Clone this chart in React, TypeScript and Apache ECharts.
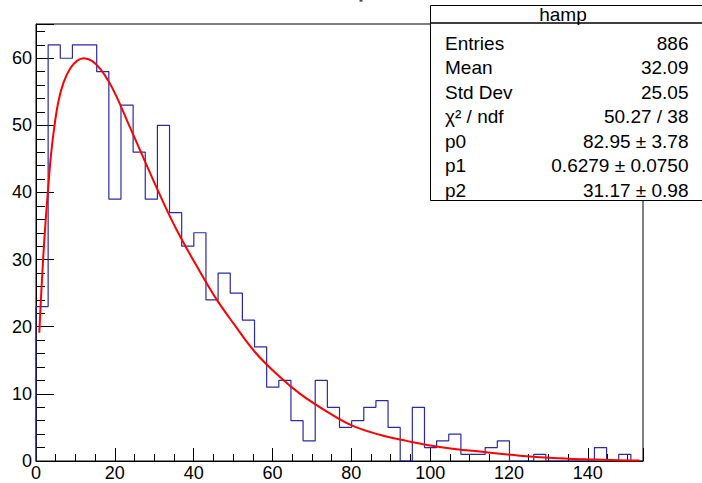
import React, { useEffect, useRef } from 'react';
import * as echarts from 'echarts';

// Histogram "hamp": 50 bins on [0, 154]
const X_MIN = 0;
const X_MAX = 154;
const N_BINS = 50;
const binCounts = [
  23, 62, 60, 62, 62, 58, 39, 53, 46, 39,
  50, 37, 32, 34, 24, 28, 25, 21, 17, 11,
  12, 6, 3, 12, 8, 5, 6, 8, 9, 5,
  0, 8, 2, 3, 4, 1, 1, 2, 3, 0,
  0, 1, 0, 0, 0, 0, 2, 0, 1, 0,
];

// Fit curve
const fitX = [0.84, 1.3, 1.8, 2.4, 3.0, 3.8, 4.7, 5.7, 7.0, 8.7, 10.4, 12.1, 14.2, 16.3, 18.6, 20.5, 23.4, 27.0, 31.0, 35.7, 41.6, 45.9, 50.1, 55.6, 61.9, 67.0, 73.7, 80.1, 87.2, 94.0, 102.4, 114.2, 122.7, 131.1, 139.5, 148.0, 153.1];
const fitY = [19.1, 24.6, 30.0, 35.4, 40.0, 45.6, 50.0, 53.6, 56.4, 58.5, 59.6, 60.0, 59.6, 58.4, 56.4, 54.2, 50.3, 45.5, 40.2, 34.4, 28.2, 24.0, 20.5, 16.2, 12.5, 10.0, 7.4, 5.3, 3.9, 3.0, 2.1, 1.3, 0.8, 0.45, 0.25, 0.12, 0.08];

const Y_MAX = 65.1;

const statsTitle = 'hamp';
const statsLabels = ['Entries', 'Mean', 'Std Dev', 'χ² / ndf', 'p0', 'p1', 'p2'];
const statsValues = ['886', '32.09', '25.05', '50.27 / 38', '82.95 ± 3.78', '0.6279 ± 0.0750', '31.17 ± 0.98'];

const FONT = '"Liberation Sans", Arial, Helvetica, sans-serif';

export default function App() {
  const ref = useRef<HTMLDivElement>(null);

  useEffect(() => {
    if (!ref.current) return;
    const chart = echarts.init(ref.current, null, { renderer: 'svg' });

    const binW = (X_MAX - X_MIN) / N_BINS;
    const histPts: number[][] = [[X_MIN, 0]];
    binCounts.forEach((c, i) => {
      const a = X_MIN + i * binW;
      histPts.push([a, c], [a + binW, c]);
    });
    histPts.push([X_MAX, 0]);

    const fitPts = fitX.map((x, i) => [x, fitY[i]]);

    const boxX = 430.5;
    const boxTop = 5.5;
    const boxBottom = 200.5;
    const sepY = 23;
    const firstRowY = 43;
    const rowStep = 24.5;

    const graphics: any[] = [
      {
        type: 'rect',
        z: 100,
        shape: { x: boxX, y: boxTop, width: 300, height: boxBottom - boxTop },
        style: { fill: '#fff', stroke: '#000', lineWidth: 1 },
      },
      {
        type: 'line',
        z: 101,
        shape: { x1: boxX, y1: sepY, x2: 702, y2: sepY },
        style: { stroke: '#000', lineWidth: 1.5 },
      },
      {
        type: 'text',
        z: 102,
        x: 563,
        y: 14.5,
        style: { text: statsTitle, font: `19px ${FONT}`, fill: '#000', align: 'center', verticalAlign: 'middle' },
      },
      {
        type: 'rect',
        z: 102,
        shape: { x: 359.5, y: 0.3, width: 3, height: 1.2 },
        style: { fill: '#000' },
      },
    ];
    statsLabels.forEach((lab, i) => {
      const cy = firstRowY + rowStep * i;
      graphics.push({
        type: 'text',
        z: 102,
        x: 445,
        y: cy,
        style: { text: lab, font: `19px ${FONT}`, fill: '#000', align: 'left', verticalAlign: 'middle' },
      });
      graphics.push({
        type: 'text',
        z: 102,
        x: 688.5,
        y: cy,
        style: { text: statsValues[i], font: `19px ${FONT}`, fill: '#000', align: 'right', verticalAlign: 'middle' },
      });
    });

    chart.setOption({
      animation: false,
      backgroundColor: '#fff',
      grid: {
        left: 36,
        right: 59,
        top: 24,
        bottom: 22,
        show: true,
        borderColor: '#000',
        borderWidth: 1,
        backgroundColor: 'transparent',
      },
      xAxis: {
        type: 'value',
        min: X_MIN,
        max: X_MAX,
        interval: 20,
        axisLine: { show: true, onZero: false, lineStyle: { color: '#000', width: 1 } },
        axisTick: { show: true, inside: true, length: 13, lineStyle: { color: '#000', width: 1 } },
        minorTick: { show: true, splitNumber: 4, length: 7, lineStyle: { color: '#000', width: 1 } },
        splitLine: { show: false },
        minorSplitLine: { show: false },
        axisLabel: {
          show: true,
          showMaxLabel: false,
          margin: 3,
          color: '#000',
          fontFamily: FONT,
          fontSize: 18,
        },
      },
      yAxis: {
        type: 'value',
        min: 0,
        max: Y_MAX,
        interval: 10,
        axisLine: { show: true, onZero: false, lineStyle: { color: '#000', width: 1 } },
        axisTick: { show: true, inside: true, length: 18, lineStyle: { color: '#000', width: 1 } },
        minorTick: { show: true, splitNumber: 5, length: 9, lineStyle: { color: '#000', width: 1 } },
        splitLine: { show: false },
        minorSplitLine: { show: false },
        axisLabel: {
          show: true,
          showMaxLabel: false,
          margin: 4,
          color: '#000',
          fontFamily: FONT,
          fontSize: 18,
        },
      },
      series: [
        {
          name: 'hamp',
          type: 'line',
          data: histPts,
          showSymbol: false,
          symbol: 'none',
          lineStyle: { color: '#2a2aa6', width: 1.2 },
          clip: true,
          z: 2,
        },
        {
          name: 'fit',
          type: 'line',
          data: fitPts,
          showSymbol: false,
          symbol: 'none',
          smooth: 0.4,
          lineStyle: { color: '#ff0000', width: 2 },
          clip: true,
          z: 3,
        },
      ],
      graphic: graphics,
    });

    return () => chart.dispose();
  }, []);

  return (
    <div
      ref={ref}
      style={{ position: 'absolute', left: 0, top: 0, width: 702, height: 483 }}
    />
  );
}
